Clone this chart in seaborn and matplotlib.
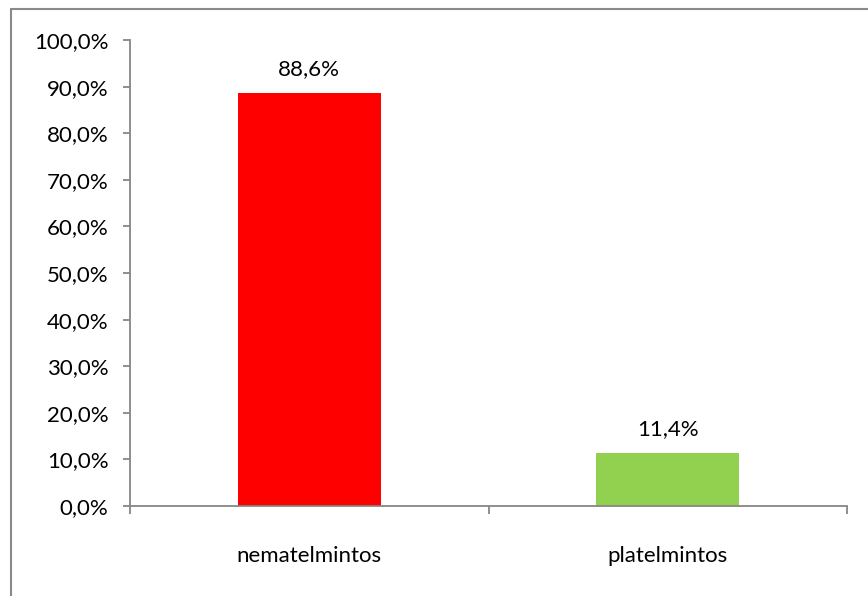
import matplotlib
matplotlib.use("Agg")
import matplotlib.pyplot as plt
from matplotlib.lines import Line2D
from matplotlib.ticker import FixedLocator, FuncFormatter
import seaborn as sns
import pandas as pd

categories = ["nematelmintos", "platelmintos"]
values = [88.6, 11.4]
bar_colors = ["#FF0000", "#92D050"]
y_ticks = [0, 10, 20, 30, 40, 50, 60, 70, 80, 90, 100]

df = pd.DataFrame({"grupo": categories, "pct": values})

sns.set_theme(style="white")
plt.rcParams["font.family"] = ["Lato", "DejaVu Sans"]

W, H = 868, 596
fig = plt.figure(figsize=(W / 100, H / 100), dpi=100)
ax = fig.add_axes([130 / W, 1 - 506 / H, (847 - 130) / W, (506 - 40) / H])

sns.barplot(data=df, x="grupo", y="pct", hue="grupo", palette=bar_colors,
            width=0.4, legend=False, ax=ax, saturation=1)
for p in ax.patches:
    p.set_linewidth(0)

ax.set_xlim(-0.5, 1.5)
ax.set_ylim(0, 100)
ax.set_xlabel("")
ax.set_ylabel("")

def pct_fmt(v, _pos=None):
    return f"{v:.1f}%".replace(".", ",")

ax.yaxis.set_major_locator(FixedLocator(y_ticks))
ax.yaxis.set_major_formatter(FuncFormatter(pct_fmt))

font_size = 16
axis_grey = "#868686"
for side in ("top", "right"):
    ax.spines[side].set_visible(False)
for side in ("left", "bottom"):
    ax.spines[side].set_color(axis_grey)
    ax.spines[side].set_linewidth(1.3)

ax.tick_params(axis="y", which="major", direction="out", length=5, width=1.3,
               color=axis_grey, labelsize=font_size, labelcolor="black",
               pad=10.5, left=True)
ax.tick_params(axis="x", which="major", length=0, labelsize=font_size,
               labelcolor="black", pad=29)
# tick marks at the category boundaries
ax.xaxis.set_minor_locator(FixedLocator([-0.5, 0.5, 1.5]))
ax.tick_params(axis="x", which="minor", direction="out", length=6, width=1.3,
               color=axis_grey, bottom=True)

for i, v in enumerate(values):
    ax.annotate(pct_fmt(v), (i, v), xytext=(0, 10), textcoords="offset points",
                ha="center", va="bottom", fontsize=font_size, color="black")

# chart area frame
frame_grey = "#898989"
fig.add_artist(Line2D([11 / W, 1.0], [1 - 9 / H, 1 - 9 / H], color=frame_grey,
                      linewidth=1.5, transform=fig.transFigure))
fig.add_artist(Line2D([11 / W, 11 / W], [0.0, 1 - 9 / H], color=frame_grey,
                      linewidth=1.5, transform=fig.transFigure))

fig.savefig("out.png", dpi=100, facecolor="white")
